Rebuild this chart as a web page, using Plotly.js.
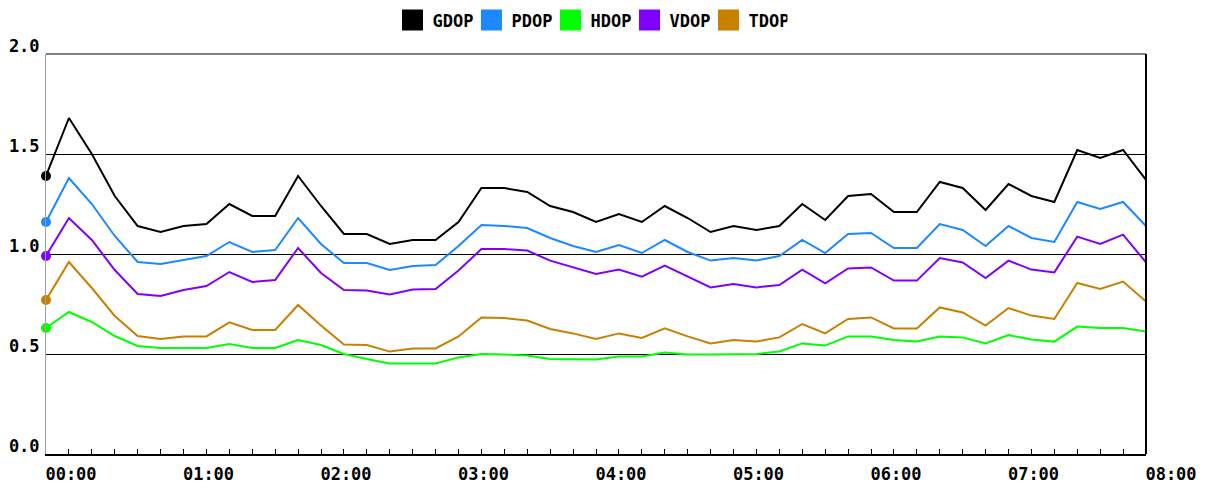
<!DOCTYPE html>
<html><head><meta charset="utf-8">
<script src="https://cdn.plot.ly/plotly-3.0.1.min.js"></script>
<style>html,body{margin:0;padding:0;background:#fff;} #chart{width:1210px;height:493px;}</style>
</head><body><div id="chart"></div>
<script>
const times = ["00:00","00:10","00:20","00:30","00:40","00:50",
  "01:00","01:10","01:20","01:30","01:40","01:50",
  "02:00","02:10","02:20","02:30","02:40","02:50",
  "03:00","03:10","03:20","03:30","03:40","03:50",
  "04:00","04:10","04:20","04:30","04:40","04:50",
  "05:00","05:10","05:20","05:30","05:40","05:50",
  "06:00","06:10","06:20","06:30","06:40","06:50",
  "07:00","07:10","07:20","07:30","07:40","07:50","08:00"];

const gdop = [1.39,1.68,1.50,1.29,1.14,1.11,1.14,1.15,1.25,1.19,1.19,1.39,1.24,
  1.10,1.10,1.05,1.07,1.07,1.16,1.33,1.33,1.31,1.24,1.21,1.16,
  1.20,1.16,1.24,1.18,1.11,1.14,1.12,1.14,1.25,1.17,1.29,1.30,1.21,
  1.21,1.36,1.33,1.22,1.35,1.29,1.26,1.52,1.48,1.52,1.37];
const pdop = [1.16,1.38,1.25,1.09,0.96,0.95,0.97,0.99,1.06,1.01,1.02,1.18,1.05,
  0.955,0.955,0.92,0.94,0.945,1.04,1.145,1.14,1.13,1.08,1.04,1.01,
  1.045,1.005,1.07,1.01,0.967,0.98,0.967,0.99,1.07,1.005,1.10,1.105,1.03,
  1.03,1.15,1.12,1.04,1.14,1.08,1.06,1.26,1.225,1.26,1.14];
const hdop = [0.63,0.71,0.66,0.59,0.54,0.53,0.53,0.53,0.55,0.53,0.53,0.57,0.545,
  0.50,0.475,0.453,0.453,0.453,0.483,0.50,0.497,0.492,0.475,0.472,0.472,
  0.487,0.487,0.508,0.497,0.497,0.497,0.50,0.513,0.553,0.542,0.588,0.588,0.57,
  0.562,0.588,0.583,0.553,0.595,0.572,0.562,0.637,0.63,0.63,0.613];
const vdop = [0.99,1.18,1.07,0.92,0.80,0.79,0.82,0.84,0.91,0.86,0.87,1.03,0.905,
  0.82,0.817,0.797,0.822,0.825,0.917,1.025,1.025,1.017,0.967,0.933,0.90,
  0.922,0.887,0.942,0.888,0.833,0.85,0.833,0.845,0.922,0.853,0.928,0.933,0.867,
  0.867,0.98,0.958,0.88,0.967,0.922,0.908,1.087,1.05,1.097,0.958];
const tdop = [0.77,0.96,0.83,0.69,0.59,0.575,0.588,0.588,0.658,0.62,0.62,0.745,0.642,
  0.547,0.545,0.512,0.528,0.528,0.588,0.683,0.68,0.667,0.625,0.603,0.575,
  0.603,0.58,0.628,0.588,0.553,0.57,0.562,0.583,0.65,0.603,0.675,0.683,0.628,
  0.628,0.733,0.708,0.642,0.73,0.692,0.675,0.855,0.825,0.862,0.762];

const seriesNames = ["GDOP","PDOP","HDOP","VDOP","TDOP"];
const hourTickValues = [0,60,120,180,240,300,360,420,480];
const hourTickLabels = ["00:00","01:00","02:00","03:00","04:00","05:00","06:00","07:00","08:00"];
const yTickValues = [0,0.5,1,1.5,2];
const yTickLabels = ["0.0","0.5","1.0","1.5","2.0"];

const colors = {GDOP:"#000000",PDOP:"#1E88FF",HDOP:"#00FF00",VDOP:"#8000FF",TDOP:"#C88000"};
const valuesByName = {GDOP:gdop,PDOP:pdop,HDOP:hdop,VDOP:vdop,TDOP:tdop};

const minutes = times.map(t => { const p = t.split(":"); return parseInt(p[0],10)*60 + parseInt(p[1],10); });

const traces = [];
seriesNames.forEach(name => {
  const vals = valuesByName[name];
  traces.push({
    type:"scatter", mode:"lines+markers", x:minutes, y:vals, name:name,
    line:{color:colors[name], width:2},
    marker:{color:colors[name], opacity:1, size: vals.map((v,i)=> i===0 ? 10 : 0), line:{width:0}},
    showlegend:false, hoverinfo:"skip", cliponaxis:false
  });
});
seriesNames.forEach(name => {
  traces.push({
    type:"scatter", mode:"markers", x:[null], y:[null], name:name,
    marker:{symbol:"square", color:colors[name], size:16, opacity:1, line:{color:colors[name], width:5}},
    showlegend:true, hoverinfo:"skip"
  });
});

const tickFont = {family:"DejaVu Sans Mono", size:17, weight:"bold", color:"#000"};

const layout = {
  width:1210, height:493,
  margin:{l:46, r:64, t:54, b:39, pad:0},
  paper_bgcolor:"#fff", plot_bgcolor:"#fff",
  showlegend:true,
  legend:{orientation:"h", xref:"container", yref:"container", x:0.4876, xanchor:"center",
    y:0.995, yanchor:"top", font:{family:"DejaVu Sans Mono", size:17, weight:"bold", color:"#000"},
    itemsizing:"trace", entrywidth:34, entrywidthmode:"pixels", bgcolor:"rgba(0,0,0,0)"},
  xaxis:{range:[0,480], tickmode:"array", tickvals:hourTickValues, ticktext:hourTickLabels,
    ticks:"inside", ticklen:5, tickcolor:"#000", tickwidth:1,
    minor:{dtick:10, tick0:0, ticks:"inside", ticklen:5, tickcolor:"#000", tickwidth:1, showgrid:false},
    showline:true, linecolor:"#000", linewidth:2, showgrid:false, zeroline:false,
    ticklabelshift:25, ticklabelstandoff:4, tickfont:tickFont, fixedrange:true},
  yaxis:{range:[0,2], tickmode:"array", tickvals:yTickValues, ticktext:yTickLabels,
    showgrid:true, gridcolor:"#000", gridwidth:1, showline:true, linecolor:"#a0a0a0", linewidth:1,
    ticks:"", zeroline:false, ticklabelshift:-8, ticklabelstandoff:2, tickfont:tickFont, fixedrange:true},
  shapes:[
    {type:"line", xref:"paper", yref:"paper", x0:0, x1:1, y0:1, y1:1, line:{color:"#000", width:1}},
    {type:"line", xref:"paper", yref:"paper", x0:1, x1:1, y0:0, y1:1, line:{color:"#000", width:2}}
  ]
};

Plotly.newPlot("chart", traces, layout, {staticPlot:true, displayModeBar:false});
</script>
</body></html>
